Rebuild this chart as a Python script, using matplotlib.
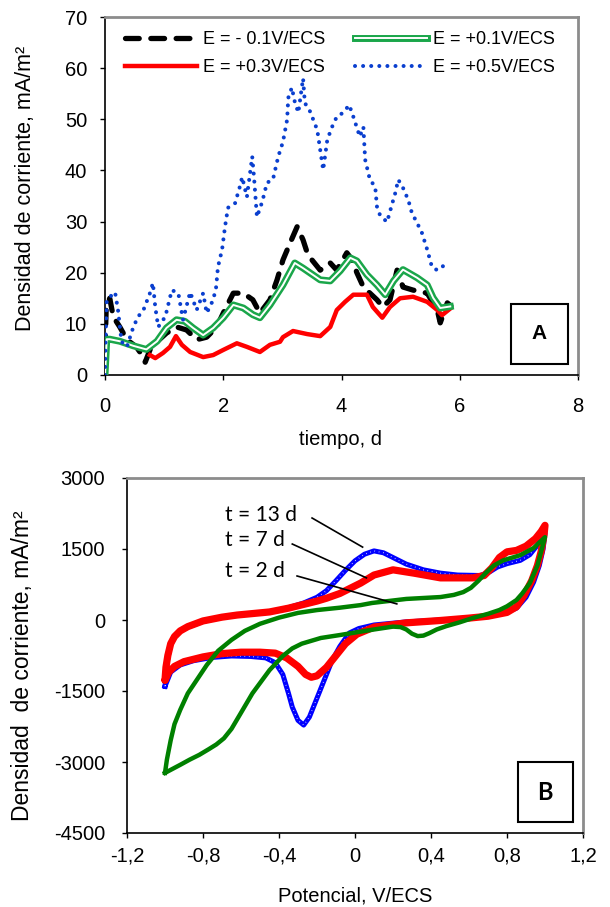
import matplotlib
matplotlib.use('Agg')
import matplotlib.pyplot as plt
import matplotlib.patheffects as pe
from matplotlib.patches import Rectangle

plt.rcParams['font.family'] = ['Liberation Sans', 'DejaVu Sans']
plt.rcParams['axes.unicode_minus'] = False

# ---- panel A : current density vs time at fixed potential
t_neg01 = [0, 0.02, 0.08, 0.14, 0.25, 0.37, 0.53, 0.62, 0.68, 0.76, 0.85, 1.04, 1.21, 1.38, 1.55, 1.72,
           1.89, 2.0, 2.17, 2.34, 2.5, 2.62, 2.79, 2.91, 3.01, 3.13, 3.25, 3.35, 3.42, 3.5, 3.64, 3.81,
           3.92, 4.09, 4.18, 4.26, 4.37, 4.6, 4.7, 4.82, 4.94, 5.04, 5.21, 5.45, 5.62, 5.67, 5.79, 5.85]
j_neg01 = [5, 13, 15, 11.4, 9.4, 6.9, 5.5, 4, 2.5, 4.9, 6.2, 8.2, 9.4, 8.8, 6.9, 7.4,
           9.4, 12.1, 16, 16, 14.7, 12.1, 14.7, 18.6, 22.5, 25.8, 29, 26.4, 23.9, 22.5, 20.5, 21.9,
           20.5, 23.9, 22.5, 20, 17.2, 14.7, 13.3, 14.7, 20.5, 17.2, 16.6, 16, 12.7, 10.2, 14.1, 13.5]

t_p01 = [0, 0.03, 0.08, 0.25, 0.48, 0.7, 0.88, 1.04, 1.21, 1.35, 1.49, 1.66, 1.83, 2.0, 2.17, 2.34,
         2.5, 2.62, 2.79, 3.01, 3.21, 3.35, 3.64, 3.81, 3.98, 4.15, 4.26, 4.43, 4.6, 4.74, 4.88, 5.04,
         5.28, 5.45, 5.55, 5.67, 5.84]
j_p01 = [0, 7, 7, 6.6, 5.7, 5, 6.6, 9.2, 10.8, 10.5, 9.2, 7.8, 9.2, 11.2, 13.7, 13.1,
         11.8, 11.2, 13.7, 17.6, 21.9, 20.9, 18.6, 18.4, 20.4, 22.9, 22.3, 19.6, 17.6, 15.7, 18.4, 20.6,
         19, 17.6, 15.1, 13.1, 13.4]

t_p03 = [0.76, 0.85, 0.98, 1.1, 1.2, 1.3, 1.44, 1.66, 1.83, 2.0, 2.23, 2.4, 2.62, 2.79, 2.96, 3.01,
         3.18, 3.42, 3.64, 3.81, 3.92, 4.06, 4.2, 4.43, 4.53, 4.69, 4.82, 4.99, 5.21, 5.45, 5.62, 5.7, 5.84]
j_p03 = [3.9, 3.3, 4.3, 5.5, 7.6, 5.9, 4.5, 3.5, 3.9, 4.9, 6.2, 5.5, 4.5, 5.9, 6.5, 7.4,
         8.6, 8, 7.6, 9.4, 12.7, 14.3, 15.7, 15.7, 13.3, 11.2, 13.3, 15, 15.3, 14.3, 12.7, 11.7, 13]

t_p05 = [0, 0.01, 0.03, 0.17, 0.22, 0.28, 0.37, 0.48, 0.56, 0.65, 0.76, 0.81, 0.85, 0.9, 1.02, 1.13,
         1.24, 1.32, 1.44, 1.55, 1.66, 1.72, 1.83, 1.88, 1.91, 1.98, 2.03, 2.08, 2.2, 2.28, 2.32, 2.4,
         2.49, 2.52, 2.57, 2.66, 2.74, 2.84, 2.93, 3.01, 3.08, 3.1, 3.16, 3.21, 3.27, 3.35, 3.38, 3.47,
         3.59, 3.64, 3.69, 3.76, 3.84, 3.92, 4.03, 4.13, 4.2, 4.31, 4.37, 4.4, 4.48, 4.57, 4.6, 4.65,
         4.77, 4.86, 4.91, 4.96, 5.04, 5.13, 5.19, 5.28, 5.36, 5.45, 5.53, 5.62, 5.7, 5.79]
j_p05 = [0, 7.4, 14.7, 16.2, 12.7, 6.5, 5.5, 9.4, 11.4, 12.7, 16, 18, 13.3, 9.4, 11.4, 16.6,
         16, 10.8, 16.2, 12.7, 16, 12.1, 14.7, 17.2, 21.1, 24.5, 29, 32.7, 33.6, 36.8, 38.7, 34.8,
         42.7, 38.7, 30.9, 33.9, 37.6, 38.2, 42.7, 45.6, 49.9, 54.2, 56.2, 53.4, 51.3, 58, 53.2, 51.5,
         47.9, 44, 40.1, 46, 48.5, 50.5, 51.3, 52.8, 50.5, 46.6, 48.5, 42.1, 38.2, 36.8, 32.9, 31.3,
         29.9, 33.6, 35.6, 38.2, 36.6, 34.2, 31.7, 29.7, 27.8, 24.5, 21.1, 20.5, 21.1, 22.1]

labels_A = ['E = - 0.1V/ECS', 'E = +0.1V/ECS', 'E = +0.3V/ECS', 'E = +0.5V/ECS']

# ---- panel B : cyclic voltammograms (forward scan then reverse scan)
v13 = [-1.0, -0.995, -0.985, -0.97, -0.95, -0.92, -0.88, -0.8, -0.7, -0.62, -0.45, -0.35, -0.27, -0.2,
       -0.15, -0.1, -0.05, 0.0, 0.05, 0.1, 0.15, 0.2, 0.27, 0.36, 0.45, 0.54, 0.66, 0.71, 0.75, 0.8,
       0.87, 0.92, 0.96, 1.0,
       0.99, 0.97, 0.94, 0.9, 0.85, 0.78, 0.7, 0.6, 0.45, 0.27, 0.1, 0.02, -0.03, -0.08, -0.12, -0.16,
       -0.2, -0.24, -0.27, -0.3, -0.33, -0.35, -0.38, -0.42, -0.47, -0.55, -0.65, -0.75, -0.85, -0.92,
       -0.97, -1.0]
i13 = [-1400, -1100, -800, -520, -360, -240, -150, -30, 60, 100, 170, 260, 360, 480,
       620, 830, 1050, 1250, 1390, 1460, 1420, 1320, 1180, 1060, 990, 950, 940, 1020, 1120, 1190,
       1260, 1380, 1580, 1840,
       1500, 1150, 800, 480, 250, 140, 80, 40, 0, -40, -105, -180, -275, -560, -850, -1250,
       -1650, -2050, -2220, -2120, -1840, -1550, -1150, -900, -800, -770, -760, -790, -860, -950,
       -1100, -1400]

v7 = [-1.0, -0.995, -0.985, -0.97, -0.95, -0.92, -0.88, -0.8, -0.7, -0.62, -0.45, -0.35, -0.27, -0.2,
      -0.15, -0.08, 0.03, 0.1, 0.2, 0.31, 0.45, 0.62, 0.68, 0.72, 0.76, 0.8, 0.85, 0.9, 0.95, 0.98, 1.0,
      0.995, 0.98, 0.96, 0.93, 0.89, 0.85, 0.8, 0.7, 0.6, 0.45, 0.27, 0.1, 0.01, -0.05, -0.1, -0.15,
      -0.2, -0.23, -0.26, -0.3, -0.36, -0.42, -0.5, -0.6, -0.7, -0.8, -0.9, -0.95, -0.98, -1.0]
i7 = [-1270, -1000, -750, -500, -350, -230, -140, -20, 60, 105, 170, 250, 330, 400,
      460, 560, 780, 950, 1060, 990, 890, 890, 940, 1100, 1320, 1440, 1470, 1560, 1720, 1870, 2000,
      1800, 1450, 1150, 830, 520, 280, 160, 80, 40, -10, -60, -150, -300, -500, -750, -1000,
      -1180, -1210, -1150, -980, -800, -700, -680, -680, -710, -780, -880, -980, -1100, -1270]

v2 = [-1.0, -0.99, -0.97, -0.95, -0.92, -0.88, -0.83, -0.78, -0.72, -0.65, -0.58, -0.5, -0.4, -0.3,
      -0.2, -0.08, 0.03, 0.09, 0.27, 0.45, 0.52, 0.57, 0.61, 0.65, 0.69, 0.73, 0.78, 0.87, 0.94, 1.0,
      0.98, 0.96, 0.92, 0.88, 0.85, 0.8, 0.76, 0.7, 0.62, 0.55, 0.48, 0.43, 0.39, 0.36, 0.33, 0.3,
      0.27, 0.24, 0.2, 0.1, -0.08, -0.18, -0.28, -0.33, -0.38, -0.45, -0.54, -0.6, -0.65, -0.69,
      -0.73, -0.77, -0.82, -0.87, -0.92, -1.0]
i2 = [-3230, -2950, -2540, -2200, -1900, -1550, -1250, -950, -650, -420, -230, -80, 50, 150,
      210, 260, 315, 360, 445, 485, 530, 590, 680, 830, 1000, 1150, 1260, 1370, 1520, 1750,
      1450, 1150, 780, 560, 422, 290, 211, 130, 42, -50, -130, -200, -280, -330, -340, -290,
      -200, -150, -140, -200, -318, -380, -500, -600, -760, -1060, -1550, -1960, -2300, -2500,
      -2630, -2730, -2850, -2950, -3060, -3230]

labels_B = ['t = 13 d', 't = 7 d', 't = 2 d']
label_pos_B = [(-0.685, 2220), (-0.685, 1690), (-0.685, 1040)]
leader_v = [(-0.226, 0.04), (-0.33, 0.06), (-0.305, 0.22)]
leader_i = [(2155, 1540), (1605, 890), (930, 340)]

fig = plt.figure(figsize=(6.1, 9.07), dpi=100)
W, H = 610.0, 907.0


def frame(ax):
    for s in ['top', 'right']:
        ax.spines[s].set_color('#8c8c8c')
        ax.spines[s].set_linewidth(2)
    for s in ['left', 'bottom']:
        ax.spines[s].set_color('black')
        ax.spines[s].set_linewidth(1.2)
    ax.tick_params(direction='out', length=3.8, width=1, labelsize=14.5,
                   top=False, right=False)


# ---------------- A
ax1 = fig.add_axes([105 / W, 1 - 375 / H, 473 / W, 358 / H])
frame(ax1)
ax1.tick_params(axis='x', pad=12)
ax1.tick_params(axis='y', pad=9)
green_a = '#1aa64a'
l_neg, = ax1.plot(t_neg01, j_neg01, color='black', lw=3.8, dashes=(2.6, 2.2),
                  dash_capstyle='round', label=labels_A[0], zorder=2)
l_p01, = ax1.plot(t_p01, j_p01, color='white', lw=1.4, label=labels_A[1], zorder=4,
                  path_effects=[pe.Stroke(linewidth=5, foreground=green_a), pe.Normal()])
l_p03, = ax1.plot(t_p03, j_p03, color='#ff0000', lw=3.2, label=labels_A[2], zorder=3)
l_p05, = ax1.plot(t_p05, j_p05, color='#0a3fcf', lw=2.9, dashes=(0.01, 2.0),
                  dash_capstyle='round', label=labels_A[3], zorder=5)
ax1.set_xlim(0, 8)
ax1.set_ylim(0, 70)
ax1.set_xticks([0, 2, 4, 6, 8])
ax1.set_yticks(range(0, 71, 10))
ax1.set_xlabel('tiempo, d', fontsize=14.5)
ax1.set_ylabel('Densidad de corriente, mA/m²', fontsize=15.5)
ax1.xaxis.set_label_coords(0.497, -0.155)
ax1.yaxis.set_label_coords(-0.145, 0.52)
ax1.legend([l_neg, l_p03, l_p01, l_p05], [labels_A[0], labels_A[2], labels_A[1], labels_A[3]],
           ncol=2, frameon=False, fontsize=13, handlelength=4, handletextpad=0.35,
           columnspacing=1.6, labelspacing=0.6, borderpad=0, borderaxespad=0,
           loc='upper left', bbox_to_anchor=(0.042, 0.96))
ax1.add_patch(Rectangle((0.858, 0.031), 0.1205, 0.1676, transform=ax1.transAxes,
                        fill=False, ec='black', lw=1.5, zorder=6))
ax1.text(0.918, 0.115, 'A', transform=ax1.transAxes, ha='center', va='center',
         fontsize=15, fontweight='bold')

# ---------------- B
ax2 = fig.add_axes([127 / W, 1 - 833 / H, 456 / W, 355 / H])
frame(ax2)
ax2.tick_params(axis='x', pad=6)
ax2.tick_params(axis='y', pad=12)
ax2.plot(v13, i13, color='#0000ff', lw=3.6, zorder=2, solid_joinstyle='round')
ax2.plot(v13, i13, color='white', lw=0.9, dashes=(0.5, 3), zorder=2.1)
ax2.plot(v7, i7, color='#ff0000', lw=5.2, zorder=3, solid_joinstyle='round', solid_capstyle='round')
ax2.plot(v2, i2, color='#008000', lw=3.2, zorder=4, solid_joinstyle='round')
for k in range(3):
    ax2.text(label_pos_B[k][0], label_pos_B[k][1], labels_B[k], ha='left', va='center',
             fontsize=15, family=['Lato', 'DejaVu Sans'])
    ax2.plot(leader_v[k], leader_i[k], color='black', lw=1.2, zorder=5)
ax2.set_xlim(-1.2, 1.2)
ax2.set_ylim(-4500, 3000)
xt = [-1.2, -0.8, -0.4, 0, 0.4, 0.8, 1.2]
ax2.set_xticks(xt)
ax2.set_xticklabels(['-1,2', '-0,8', '-0,4', '0', '0,4', '0,8', '1,2'])
ax2.set_yticks([-4500, -3000, -1500, 0, 1500, 3000])
ax2.set_xlabel('Potencial, V/ECS', fontsize=14.5)
ax2.set_ylabel('Densidad  de corriente, mA/m²', fontsize=16.5)
ax2.xaxis.set_label_coords(0.5, -0.15)
ax2.yaxis.set_label_coords(-0.205, 0.47)
ax2.add_patch(Rectangle((0.857, 0.031), 0.1206, 0.169, transform=ax2.transAxes,
                        fill=False, ec='black', lw=1.5, zorder=6))
ax2.text(0.917, 0.115, 'B', transform=ax2.transAxes, ha='center', va='center',
         fontsize=17, fontweight='bold', family=['Lato', 'DejaVu Sans'])

fig.savefig('out.png', dpi=100)
